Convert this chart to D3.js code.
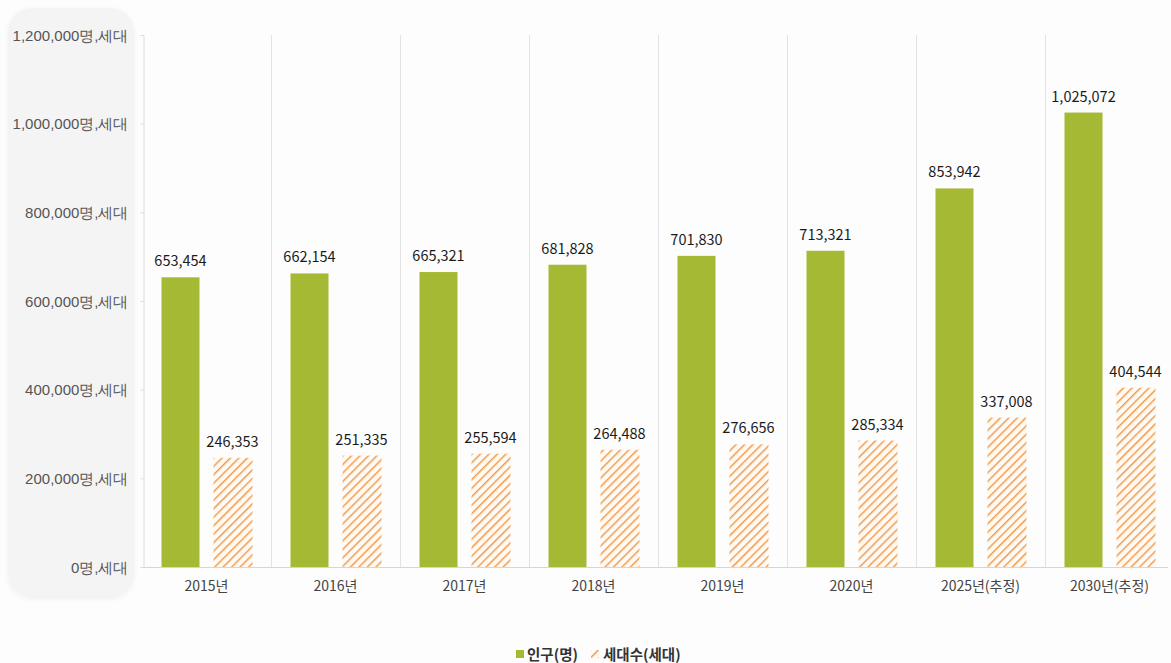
<!DOCTYPE html>
<html>
<head>
<meta charset="utf-8">
<script src="https://cdn.jsdelivr.net/npm/d3@7/dist/d3.min.js"></script>
<style>
  html, body { margin: 0; padding: 0; background: #fdfdfd; }
  svg { display: block; font-family: "Noto Sans CJK KR", "Noto Sans", sans-serif; }
</style>
</head>
<body>
<svg id="chart" width="1171" height="663"></svg>
<script>
// Population and household counts by year
const categories = ["2015년", "2016년", "2017년", "2018년", "2019년", "2020년", "2025년(추정)", "2030년(추정)"];
const population = [653454, 662154, 665321, 681828, 701830, 713321, 853942, 1025072];
const households = [246353, 251335, 255594, 264488, 276656, 285334, 337008, 404544];
const yTicks = [0, 200000, 400000, 600000, 800000, 1000000, 1200000];
const seriesNames = ["인구(명)", "세대수(세대)"];

const svg = d3.select("#chart");
const fmt = d3.format(",");

const x = d3.scaleBand().domain(categories).range([142, 1174]).paddingInner(0).paddingOuter(0);
const y = d3.scaleLinear().domain([0, 1200000]).range([567, 35]);

// hatch pattern for the household bars
const defs = svg.append("defs");
const pat = defs.append("pattern")
  .attr("id", "hatch").attr("patternUnits", "userSpaceOnUse")
  .attr("width", 6).attr("height", 6)
  .attr("patternTransform", "rotate(45)");
pat.append("rect").attr("width", 6).attr("height", 6).attr("fill", "#fffaf4");
pat.append("line").attr("x1", 0).attr("y1", 0).attr("x2", 0).attr("y2", 6)
  .attr("stroke", "#f09c50").attr("stroke-width", 3);

const shadow = defs.append("filter").attr("id", "soft").attr("x", "-10%").attr("y", "-10%").attr("width", "120%").attr("height", "120%");
shadow.append("feDropShadow").attr("dx", 0).attr("dy", 1).attr("stdDeviation", 2).attr("flood-color", "#000").attr("flood-opacity", 0.06);

// panel behind the value axis labels
svg.append("rect").attr("x", 8).attr("y", 8).attr("width", 126).attr("height", 590)
  .attr("rx", 24).attr("fill", "#f4f4f4").attr("filter", "url(#soft)");

// category separators
svg.append("g").selectAll("line")
  .data(categories.slice(1))
  .join("line")
  .attr("x1", d => x(d) + 0.5).attr("x2", d => x(d) + 0.5)
  .attr("y1", 35).attr("y2", 567)
  .attr("stroke", "#e2e2e2").attr("stroke-width", 1);

// value axis
const yAxis = svg.append("g").attr("transform", "translate(143.5,0)")
  .call(d3.axisLeft(y).tickValues(yTicks).tickSize(3).tickFormat(d => fmt(d) + "명,세대"));
yAxis.select(".domain").attr("stroke", "#dcdcdc");
yAxis.selectAll(".tick line").attr("stroke", "#dcdcdc");
yAxis.selectAll(".tick text").attr("x", -15).attr("fill", "#555").attr("font-size", 15).attr("dy", "0.35em");

// baseline
svg.append("line").attr("x1", 143).attr("x2", 1168).attr("y1", 567.5).attr("y2", 567.5)
  .attr("stroke", "#d6d6d6");

// category labels
svg.append("g").selectAll("text")
  .data(categories)
  .join("text")
  .attr("x", d => x(d) + x.bandwidth() / 2)
  .attr("y", 591)
  .attr("text-anchor", "middle")
  .attr("fill", "#444").attr("font-size", 14)
  .text(d => d);

const barW = 38;
const gap = 14;
const rows = categories.map((c, i) => ({ c, p: population[i], h: households[i] }));

// population bars
svg.append("g").selectAll("rect")
  .data(rows).join("rect")
  .attr("x", d => x(d.c) + x.bandwidth() / 2 - gap / 2 - barW)
  .attr("y", d => y(d.p))
  .attr("width", barW)
  .attr("height", d => y(0) - y(d.p))
  .attr("fill", "#a6b935");

// household bars
svg.append("g").selectAll("rect")
  .data(rows).join("rect")
  .attr("x", d => x(d.c) + x.bandwidth() / 2 + gap / 2)
  .attr("y", d => y(d.h))
  .attr("width", barW + 1)
  .attr("height", d => y(0) - y(d.h))
  .attr("fill", "url(#hatch)");

// value labels
const labels = svg.append("g").attr("font-size", 14.5).attr("fill", "#1a1a1a").attr("text-anchor", "middle");
labels.selectAll("text.p").data(rows).join("text").attr("class", "p")
  .attr("x", d => x(d.c) + x.bandwidth() / 2 - gap / 2 - barW / 2)
  .attr("y", d => y(d.p) - 11)
  .text(d => fmt(d.p));
labels.selectAll("text.h").data(rows).join("text").attr("class", "h")
  .attr("x", d => x(d.c) + x.bandwidth() / 2 + gap / 2 + barW / 2)
  .attr("y", d => y(d.h) - 11)
  .text(d => fmt(d.h));

// legend
const legend = svg.append("g").attr("font-size", 14.5).attr("font-weight", 700).attr("fill", "#333");
legend.append("rect").attr("x", 516).attr("y", 650).attr("width", 8).attr("height", 8).attr("fill", "#a6b935");
legend.append("text").attr("x", 527).attr("y", 659.5).text(seriesNames[0]);
legend.append("rect").attr("x", 591).attr("y", 650).attr("width", 8).attr("height", 8).attr("fill", "url(#hatch)");
legend.append("text").attr("x", 603).attr("y", 659.5).text(seriesNames[1]);
</script>
</body>
</html>
